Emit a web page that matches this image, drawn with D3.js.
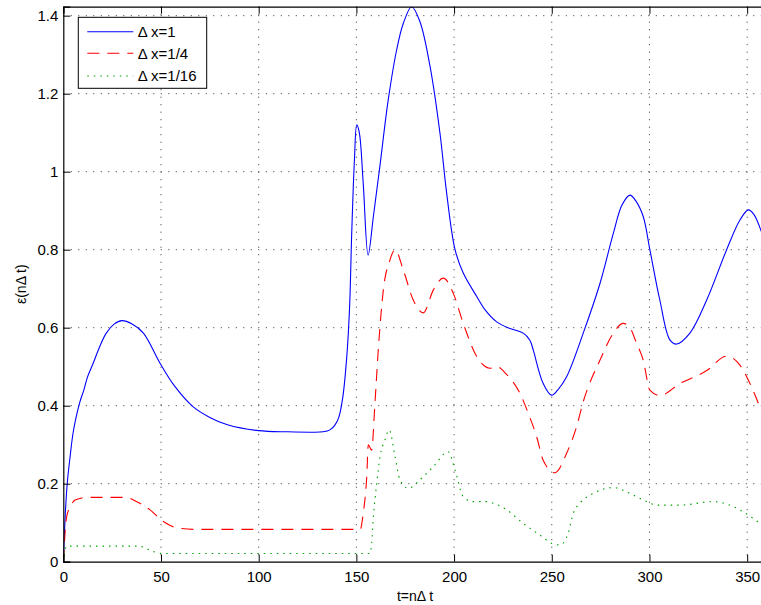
<!DOCTYPE html>
<html>
<head>
<meta charset="utf-8">
<script src="https://cdn.jsdelivr.net/npm/d3@7"></script>
<style>
  body { margin: 0; background: #fff; }
  text { font-family: "Liberation Sans", Arial, Helvetica, sans-serif; fill: #000; }
</style>
</head>
<body>
<div id="wrapper"></div>
<script>
// error curves, [t, eps]
const seriesDx1 = [
  [0,0],[1,0.12],[2,0.2],[3.5,0.27],[5,0.33],[7,0.38],[8.5,0.41],[10.5,0.44],[12.5,0.475],
  [15.4,0.51],[18.5,0.55],[22,0.586],[26,0.609],[30,0.618],[35,0.61],[41,0.586],[49.5,0.509],
  [57,0.45],[66.5,0.397],[75,0.37],[84,0.351],[100,0.336],[115,0.333],[127,0.332],[133,0.333],
  [136.5,0.338],[139,0.35],[141,0.37],[143,0.42],[145,0.52],[146.5,0.65],[147.6,0.84],[149,1.03],
  [150.2,1.12],[151.5,1.1],[153.5,0.97],[156,0.786],[158.7,0.885],[162,1.013],[166.3,1.184],
  [170.6,1.312],[174,1.38],[178.3,1.423],[182.5,1.385],[187.7,1.27],[192.8,1.098],[196.2,0.945],
  [200.5,0.8],[204.7,0.74],[211.6,0.68],[216,0.645],[221.8,0.615],[228.6,0.598],[235.4,0.586],
  [238.8,0.568],[240.5,0.543],[245.6,0.457],[249.9,0.427],[253,0.44],[257.6,0.474],[266.1,0.586],
  [274.7,0.714],[281.5,0.842],[286,0.915],[290,0.94],[293,0.925],[296.8,0.885],[300.2,0.8],
  [305.3,0.671],[310.5,0.568],[313.9,0.558],[320.7,0.586],[329.3,0.671],[339.5,0.8],[346.3,0.876],
  [350.6,0.902],[353.5,0.89],[357,0.85],[360,0.8]
]
const seriesDx4 = [
  [0,0],[1.7,0.115],[4,0.145],[6,0.158],[12,0.165],[32,0.165],[37.6,0.154],[44.4,0.133],
  [51.2,0.103],[58,0.087],[66.5,0.083],[152,0.083],[153.5,0.124],[155.3,0.218],[156.1,0.3],
  [157.8,0.286],[159.5,0.406],[161.2,0.543],[163.8,0.697],[167.2,0.774],[169.8,0.8],[174,0.748],
  [179.1,0.671],[184.2,0.638],[189.4,0.697],[194.5,0.727],[199.6,0.688],[204.7,0.611],
  [211.6,0.526],[218.4,0.496],[221.8,0.5],[226.9,0.48],[233.7,0.432],[238,0.38],[242.3,0.32],
  [245.6,0.26],[251.6,0.228],[257.6,0.278],[262.7,0.346],[266.1,0.41],[274.7,0.517],
  [281.5,0.586],[286.6,0.611],[290,0.6],[293.4,0.56],[296.8,0.517],[300.2,0.44],[305.3,0.426],
  [315.6,0.457],[329.3,0.49],[339.5,0.527],[346.3,0.504],[351.4,0.457],[357,0.39],[360,0.35]
]
const seriesDx16 = [
  [0,0],[1.7,0.04],[38.8,0.04],[46,0.026],[51.2,0.021],[157,0.021],[157.8,0.047],[158.7,0.115],
  [160.4,0.2],[162.1,0.269],[164.6,0.312],[166.8,0.338],[169.8,0.269],[172.3,0.21],[176.6,0.188],
  [182.5,0.21],[189.4,0.244],[197,0.282],[200.5,0.235],[204.7,0.167],[209.8,0.154],[216.7,0.154],
  [220.1,0.15],[226.9,0.133],[235.4,0.098],[244,0.068],[250,0.047],[254.2,0.043],[258.4,0.073],
  [261,0.124],[264.4,0.15],[271.2,0.175],[281.5,0.19],[290,0.175],[298.6,0.154],[303.7,0.145],
  [315.6,0.145],[332.6,0.154],[341.2,0.145],[348,0.128],[357,0.098],[360,0.09]
]
const legendLabels = ["\u0394 x=1", "\u0394 x=1/4", "\u0394 x=1/16"]
const xTicks = [0, 50, 100, 150, 200, 250, 300, 350]
const yTicks = [0, 0.2, 0.4, 0.6, 0.8, 1, 1.2, 1.4]

const width = 761
const height = 605
const plot = { left: 63.3, top: 6.7, right: 766.7, bottom: 561.7 }

const svg = d3.select("#wrapper").append("svg")
  .attr("width", width)
  .attr("height", height)

const xScale = d3.scaleLinear().domain([0, 360]).range([plot.left, plot.right])
const yScale = d3.scaleLinear().domain([0, 1.423]).range([plot.bottom, plot.top])

svg.append("defs").append("clipPath").attr("id", "clip")
  .append("rect")
  .attr("x", plot.left).attr("y", plot.top)
  .attr("width", plot.right - plot.left).attr("height", plot.bottom - plot.top)

// grid
const grid = svg.append("g")
grid.selectAll(".gx").data(xTicks.filter(d => d > 0)).join("line")
  .attr("x1", d => xScale(d)).attr("x2", d => xScale(d))
  .attr("y1", plot.top).attr("y2", plot.bottom)
grid.selectAll(".gy").data(yTicks.filter(d => d > 0)).join("line")
  .attr("class", "gy")
  .attr("x1", plot.left).attr("x2", plot.right)
  .attr("y1", d => yScale(d)).attr("y2", d => yScale(d))
grid.selectAll("line")
  .attr("stroke", "#333")
  .attr("stroke-width", 1)
  .attr("stroke-dasharray", "1,6.5")

// curves
const smoothLine = d3.line()
  .x(d => xScale(d[0]))
  .y(d => yScale(d[1]))
  .curve(d3.curveCatmullRom.alpha(0.5))
const flatLine = d3.line()
  .x(d => xScale(d[0]))
  .y(d => yScale(d[1]))
  .curve(d3.curveMonotoneX)

const curves = svg.append("g").attr("clip-path", "url(#clip)")
const styles = [
  { data: seriesDx1, color: "#0000ff", dash: null, gen: smoothLine },
  { data: seriesDx4, color: "#ff0000", dash: "12,8", gen: flatLine },
  { data: seriesDx16, color: "#00a000", dash: "1.5,5", gen: flatLine }
]
styles.forEach(s => {
  curves.append("path")
    .attr("d", s.gen(s.data))
    .attr("fill", "none")
    .attr("stroke", s.color)
    .attr("stroke-width", 1.1)
    .attr("stroke-dasharray", s.dash)
})

// axes (MATLAB style, ticks inside, box on)
const xAxis = d3.axisBottom(xScale).tickValues(xTicks).tickSize(-7).tickPadding(9.5)
const yAxis = d3.axisLeft(yScale).tickValues(yTicks).tickSize(-7).tickPadding(5).tickFormat(d3.format("~g"))
const xTop = d3.axisTop(xScale).tickValues(xTicks).tickSize(-7).tickFormat("")

svg.append("g").attr("transform", `translate(0,${plot.bottom})`).call(xAxis)
svg.append("g").attr("transform", `translate(${plot.left},0)`).call(yAxis)
svg.append("g").attr("transform", `translate(0,${plot.top})`).call(xTop)

svg.selectAll(".domain").attr("stroke", "#000").attr("stroke-width", 1.2)
svg.selectAll(".tick line").attr("stroke", "#000")
svg.selectAll(".tick text").attr("font-size", 15).attr("fill", "#000")
  .style("font-family", "'Liberation Sans', Arial, sans-serif")

// labels
svg.append("text")
  .attr("x", (plot.left + plot.right) / 2)
  .attr("y", 601)
  .attr("text-anchor", "middle")
  .attr("font-size", 14)
  .text("t=n\u0394 t")

svg.append("text")
  .attr("transform", `translate(26,${(plot.top + plot.bottom) / 2}) rotate(-90)`)
  .attr("text-anchor", "middle")
  .attr("font-size", 14)
  .text("\u03b5(n\u0394 t)")

// legend
const legend = svg.append("g").attr("transform", "translate(78.3,17.3)")
legend.append("rect")
  .attr("width", 128.4).attr("height", 71)
  .attr("fill", "#fff").attr("stroke", "#000").attr("stroke-width", 1)
const rowY = [14.4, 36, 58.7]
styles.forEach((s, i) => {
  legend.append("line")
    .attr("x1", 9).attr("x2", 55)
    .attr("y1", rowY[i]).attr("y2", rowY[i])
    .attr("stroke", s.color).attr("stroke-width", 1.1)
    .attr("stroke-dasharray", s.dash)
  legend.append("text")
    .attr("x", 59.4).attr("y", rowY[i] + 5.5)
    .attr("font-size", 15)
    .text(legendLabels[i])
})
</script>
</body>
</html>
